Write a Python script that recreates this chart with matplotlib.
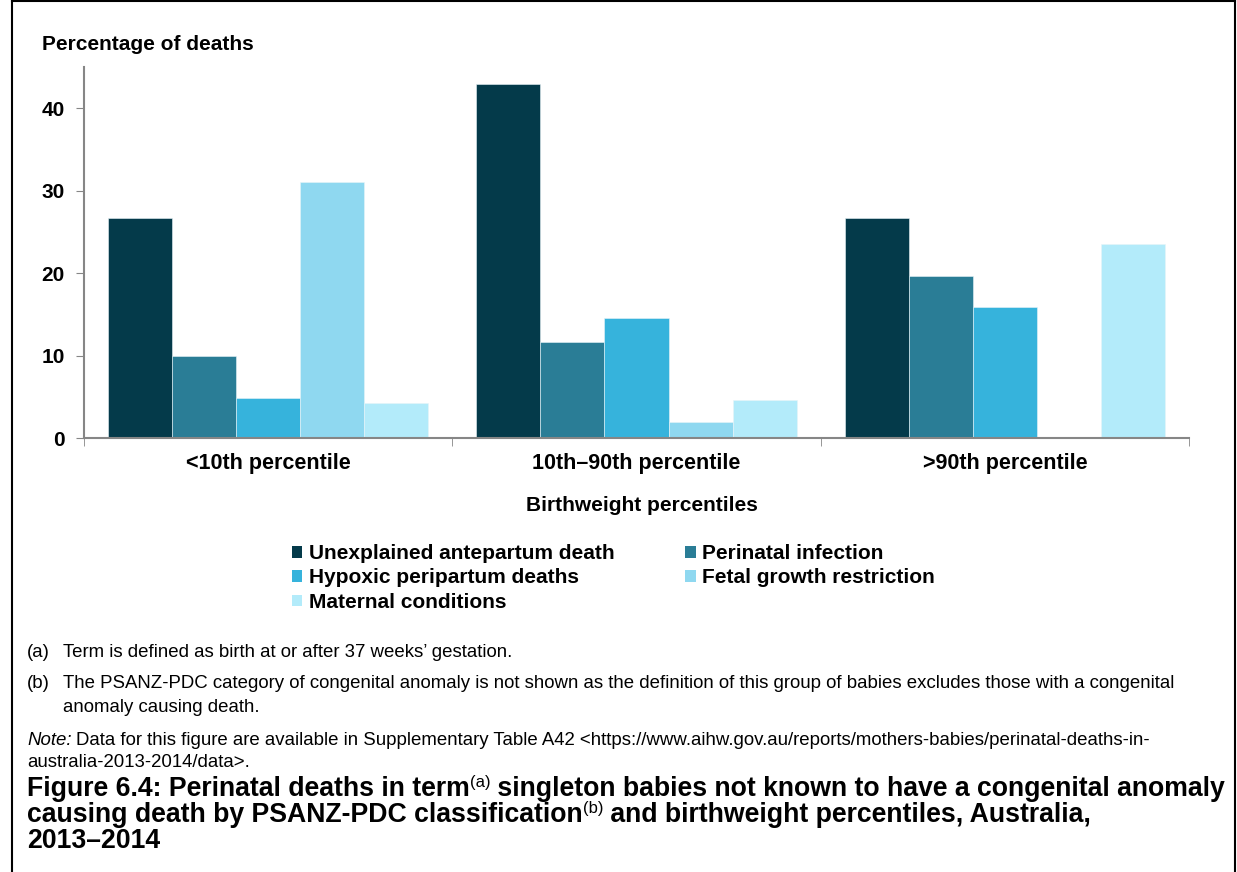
# Figure 6.4 - perinatal deaths by PSANZ-PDC classification and birthweight percentile

import numpy as np
import matplotlib
matplotlib.use("Agg")
import matplotlib.pyplot as plt
from matplotlib.lines import Line2D
from matplotlib.patches import Patch

plt.rcParams['font.family'] = ['Liberation Sans', 'DejaVu Sans']

groups = ["<10th percentile", "10th\u201390th percentile", ">90th percentile"]
series = ["Unexplained antepartum death", "Perinatal infection",
          "Hypoxic peripartum deaths", "Fetal growth restriction",
          "Maternal conditions"]
unexplained = [26.7, 42.9, 26.7]
infection = [9.9, 11.7, 19.6]
hypoxic = [4.8, 14.6, 15.9]
fgr = [31.0, 2.0, 0.0]
maternal = [4.3, 4.6, 23.5]
colors = ["#043A4A", "#2A7D96", "#36B3DC", "#8FD8F0", "#B3EBFA"]
yticks = [0, 10, 20, 30, 40]

W, H = 1237, 872
fig = plt.figure(figsize=(W / 100, H / 100), dpi=100)


def fx(px):
    return px / W


def fy(py):
    return 1 - py / H


ax = fig.add_axes([fx(84), fy(438), fx(1189) - fx(84), fy(67) - fy(438)])

values = [unexplained, infection, hypoxic, fgr, maternal]
x = np.arange(len(groups))
bw = 0.174
for i, vals in enumerate(values):
    ax.bar(x + (i - 2) * bw, vals, width=bw, color=colors[i],
           edgecolor='#E8F4F8', linewidth=0.4, label=series[i])

ax.set_xlim(-0.5, 2.5)
ax.set_ylim(0, 45)
ax.set_yticks(yticks)
ax.set_yticklabels([str(t) for t in yticks], fontsize=15, fontweight='bold')
ax.set_xticks(x)
ax.set_xticklabels(groups, fontsize=15.5, fontweight='bold')
ax.tick_params(axis='x', which='major', length=0, pad=11)
ax.set_xticks([-0.5, 0.5, 1.5, 2.5], minor=True)
ax.tick_params(axis='x', which='minor', length=6, color='#868686', direction='out')
ax.tick_params(axis='y', length=6, color='#868686', direction='out', pad=8)
for s in ['top', 'right']:
    ax.spines[s].set_visible(False)
for s in ['left', 'bottom']:
    ax.spines[s].set_color('#868686')
    ax.spines[s].set_linewidth(1.5)

fig.text(fx(42), fy(44), "Percentage of deaths", fontsize=15, fontweight='bold',
         va='center', ha='left')
fig.text(fx(642), fy(505), "Birthweight percentiles", fontsize=15,
         fontweight='bold', va='center', ha='center')

# legend, filled row by row
handles = [Patch(facecolor=c) for c in colors]
order = [0, 2, 4, 1, 3]
fig.legend([handles[i] for i in order], [series[i] for i in order],
           loc='upper left', bbox_to_anchor=(fx(292), fy(544)), ncol=2,
           frameon=False, borderpad=0, borderaxespad=0,
           handlelength=0.5, handleheight=0.5,
           handletextpad=0.3, columnspacing=3.4, labelspacing=0.26,
           prop={'size': 15, 'weight': 'bold'})

# footnotes
fs = 13.4
fig.text(fx(27), fy(657), "(a)", fontsize=fs, va='baseline')
fig.text(fx(63), fy(657), "Term is defined as birth at or after 37 weeks\u2019 gestation.",
         fontsize=fs, va='baseline')
fig.text(fx(27), fy(688), "(b)", fontsize=fs, va='baseline')
fig.text(fx(63), fy(688), "The PSANZ-PDC category of congenital anomaly is not shown as the "
         "definition of this group of babies excludes those with a congenital",
         fontsize=fs, va='baseline')
fig.text(fx(63), fy(712), "anomaly causing death.", fontsize=fs, va='baseline')
t = fig.text(fx(27), fy(745), "Note:", fontsize=fs, va='baseline', style='italic')
fig.text(fx(27), fy(767), "australia-2013-2014/data>.", fontsize=fs, va='baseline')

fig.canvas.draw()
r = fig.canvas.get_renderer()
bb = t.get_window_extent(r)
fig.text(bb.x1 / W + fx(4), fy(745),
         "Data for this figure are available in Supplementary Table A42 "
         "<https://www.aihw.gov.au/reports/mothers-babies/perinatal-deaths-in-",
         fontsize=fs, va='baseline')

# title with superscripts
tfs = 19.2


def title_line(parts, py):
    xpos = fx(27)
    for txt, sup in parts:
        if sup:
            tt = fig.text(xpos, fy(py - 9), txt, fontsize=12, va='baseline')
        else:
            tt = fig.text(xpos, fy(py), txt, fontsize=tfs, fontweight='bold',
                          va='baseline')
        fig.canvas.draw()
        xpos = tt.get_window_extent(r).x1 / W


title_line([("Figure 6.4: Perinatal deaths in term", False), ("(a)", True),
            (" singleton babies not known to have a congenital anomaly", False)], 796)
title_line([("causing death by PSANZ-PDC classification", False), ("(b)", True),
            (" and birthweight percentiles, Australia,", False)], 822)
title_line([("2013\u20132014", False)], 848)

# frame round the figure
for xs, ys in [([12, 12], [0, H]), ([12, 1235], [1, 1]), ([1235, 1235], [0, H])]:
    fig.add_artist(Line2D([fx(v) for v in xs], [fy(v) for v in ys],
                          color='black', linewidth=1.5))

fig.savefig("out.png", dpi=100)
